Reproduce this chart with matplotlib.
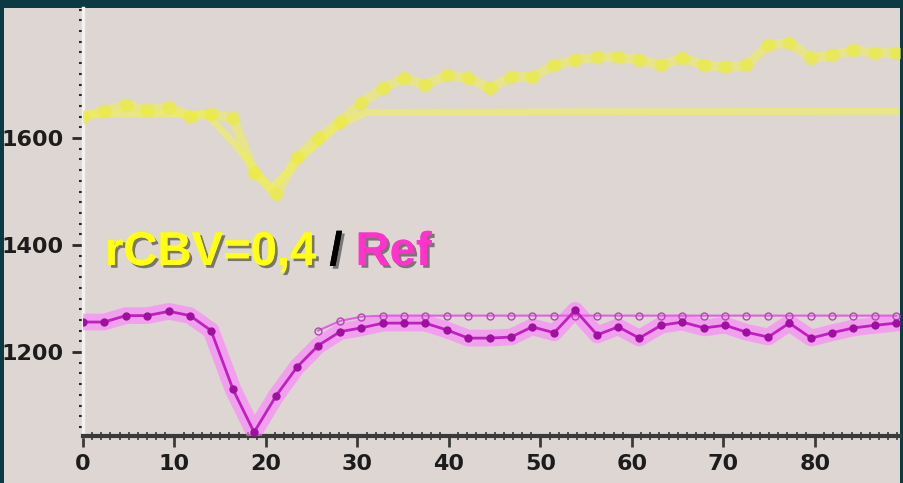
import matplotlib
matplotlib.use("Agg")
import matplotlib.pyplot as plt
import matplotlib.patheffects as pe
from matplotlib.patches import Rectangle
from matplotlib.ticker import MultipleLocator, FixedLocator

# acquisition times (s)
time_s = [0, 2.3, 4.7, 7.0, 9.4, 11.7, 14.0, 16.4, 18.7, 21.1, 23.4, 25.7, 28.1,
          30.4, 32.8, 35.1, 37.4, 39.8, 42.1, 44.5, 46.8, 49.1, 51.5, 53.8, 56.2,
          58.5, 60.8, 63.2, 65.5, 67.9, 70.2, 72.5, 74.9, 77.2, 79.6, 81.9, 84.2,
          86.6, 88.9]

# rCBV = 0.4 curve (yellow)
signal_rcbv = [1640, 1650, 1662, 1652, 1658, 1640, 1645, 1637, 1535, 1495, 1564,
               1600, 1630, 1665, 1693, 1712, 1699, 1718, 1712, 1693, 1714, 1714,
               1736, 1746, 1751, 1751, 1746, 1736, 1750, 1736, 1733, 1736, 1774,
               1778, 1750, 1755, 1764, 1759, 1759]
fit_rcbv_t = [0, 13.5, 16.5, 20.5, 24.0, 28.0, 31.0, 89.3]
fit_rcbv = [1645, 1645, 1590, 1505, 1565, 1625, 1648, 1650]

# reference curve (magenta)
signal_ref = [1256, 1256, 1268, 1268, 1276, 1268, 1240, 1130, 1050, 1118, 1172,
              1212, 1238, 1245, 1254, 1254, 1254, 1241, 1226, 1226, 1228, 1247,
              1236, 1278, 1232, 1247, 1226, 1250, 1256, 1245, 1250, 1237, 1228,
              1254, 1226, 1236, 1245, 1250, 1254]
fit_ref_t = time_s[11:]
fit_ref = [1240, 1258, 1266, 1268, 1268, 1268, 1268, 1268, 1268, 1268, 1268,
           1268, 1268, 1268, 1268, 1268, 1268, 1268, 1268, 1268, 1268, 1268,
           1268, 1268, 1268, 1268, 1268, 1268]

W, H = 904, 483
fig = plt.figure(figsize=(W / 100, H / 100), dpi=100, facecolor="#0b3a44")
fig.patches.append(Rectangle((4 / W, 0), 896 / W, 475 / H, transform=fig.transFigure,
                             facecolor="#ddd6d3", edgecolor="none", zorder=-5))

ax = fig.add_axes([83 / W, 47 / H, 817 / W, 428 / H])
ax.set_facecolor("none")
ax.set_xlim(0, 89.3)
ax.set_ylim(1043, 1843)

# yellow: data + fit
ax.plot(fit_rcbv_t, fit_rcbv, color="#eeee66", lw=5, alpha=0.7, zorder=2)
ax.plot(time_s, signal_rcbv, color="#f0f050", lw=7, alpha=0.55, zorder=3)
ax.plot(time_s, signal_rcbv, "o", ms=10, color="#ecec35", alpha=0.6, mec="none", zorder=3)

# magenta: data + fit
ax.plot(time_s, signal_ref, color="#ff7cff", lw=12, alpha=0.6, zorder=4)
ax.plot(fit_ref_t, fit_ref, color="#e060e0", lw=1.5, marker="o", ms=5,
        mfc="none", mec="#b048b0", mew=1, zorder=5)
ax.plot(time_s, signal_ref, color="#c020c0", lw=2, zorder=6)
ax.plot(time_s, signal_ref, "o", ms=6, color="#a010a0", mec="none", zorder=7)

# axes styling
for s in ("top", "right"):
    ax.spines[s].set_visible(False)
ax.spines["left"].set_color("#f4f2f0")
ax.spines["left"].set_linewidth(2.5)
ax.spines["bottom"].set_color("#3a3a3a")
ax.spines["bottom"].set_linewidth(3)

ax.xaxis.set_major_locator(MultipleLocator(10))
ax.xaxis.set_minor_locator(MultipleLocator(1))
ax.yaxis.set_major_locator(FixedLocator([1200, 1400, 1600]))
ax.yaxis.set_minor_locator(MultipleLocator(20))

lab = dict(labelsize=16, labelcolor="#1c1c1c")
ax.tick_params(axis="x", which="major", direction="out", length=8, width=2,
               color="#3a3a3a", pad=5, **lab)
ax.tick_params(axis="x", which="minor", direction="inout", length=6, width=1.2,
               color="#3a3a3a")
ax.tick_params(axis="y", which="major", direction="out", length=8, width=2,
               color="#2a2a2a", pad=6, **lab)
ax.tick_params(axis="y", which="minor", direction="out", length=3, width=1.5,
               color="#2a2a2a")
for t in ax.get_xticklabels() + ax.get_yticklabels():
    t.set_fontweight("bold")

# overlay caption
shadow = [pe.withSimplePatchShadow(offset=(2, -2), shadow_rgbFace="black", alpha=0.45),
          pe.Normal()]
fnt = dict(fontsize=34, fontweight="bold", family=["Liberation Sans", "DejaVu Sans"])
base_y = (H - 265) / H
t1 = fig.text(105 / W, base_y, "rCBV=0,4", color="#ffff10", path_effects=shadow, **fnt)
t2 = fig.text(0, base_y, " / ", color="black", path_effects=shadow, **fnt)
t3 = fig.text(0, base_y, "Ref", color="#ff33cc", path_effects=shadow, **fnt)
fig.canvas.draw()
r = fig.canvas.get_renderer()
t2.set_x(t1.get_window_extent(r).x1 / W)
t3.set_x(t2.get_window_extent(r).x1 / W)

fig.savefig("out.png", dpi=100, facecolor=fig.get_facecolor())
